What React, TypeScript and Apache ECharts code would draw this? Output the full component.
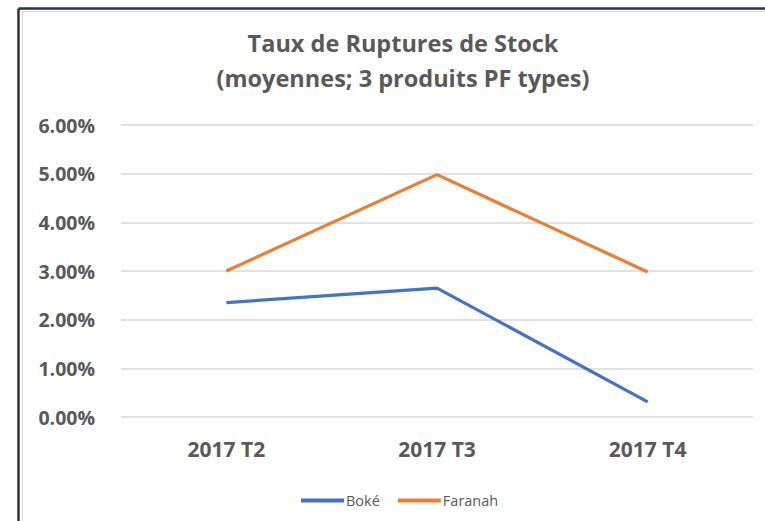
import React, { useEffect, useRef } from "react";
import * as echarts from "echarts";

const categories = ["2017 T2", "2017 T3", "2017 T4"];
const bokeValues = [2.35, 2.65, 0.31];
const faranahValues = [3.0, 4.98, 2.98];
const yTicks = [0, 1, 2, 3, 4, 5, 6];

const FONT = "'Open Sans', sans-serif";
const GRAY = "#595959";

export default function App() {
  const ref = useRef<HTMLDivElement>(null);
  useEffect(() => {
    const chart = echarts.init(ref.current!, null, { renderer: "svg" });
    chart.setOption({
      animation: false,
      backgroundColor: "#ffffff",
      title: {
        text: "Taux de Ruptures de Stock\n(moyennes; 3 produits PF types)",
        left: 398,
        textAlign: "center",
        top: 20,
        textStyle: {
          fontFamily: FONT,
          fontWeight: "bold",
          fontSize: 23.5,
          color: GRAY,
          lineHeight: 35,
        },
      },
      legend: {
        left: 296,
        top: 488,
        itemWidth: 43,
        itemHeight: 4,
        itemGap: 18,
        icon: "rect",
        textStyle: { fontFamily: FONT, fontSize: 14.5, color: GRAY, padding: [0, 0, 0, -3] },
        data: ["Boké", "Faranah"],
      },
      grid: { left: 121, right: 12, top: 125, bottom: 104 },
      xAxis: {
        type: "category",
        data: categories,
        boundaryGap: true,
        axisLine: { show: false },
        axisTick: { show: false },
        axisLabel: {
          fontFamily: FONT,
          fontWeight: "bold",
          fontSize: 21,
          color: GRAY,
          margin: 21,
        },
      },
      yAxis: {
        type: "value",
        min: yTicks[0],
        max: yTicks[yTicks.length - 1],
        interval: 1,
        axisLine: { show: false },
        axisTick: { show: false },
        splitLine: { lineStyle: { color: "#d9d9d9", width: 1.5 } },
        axisLabel: {
          fontFamily: FONT,
          fontWeight: "bold",
          fontSize: 19.5,
          color: GRAY,
          margin: 26,
          formatter: (v: number) => v.toFixed(2) + "%",
        },
      },
      series: [
        {
          name: "Boké",
          type: "line",
          data: bokeValues,
          showSymbol: false,
          symbol: "none",
          lineStyle: { color: "#4472C4", width: 3.2 },
          itemStyle: { color: "#4472C4" },
        },
        {
          name: "Faranah",
          type: "line",
          data: faranahValues,
          showSymbol: false,
          symbol: "none",
          lineStyle: { color: "#ED7D31", width: 3.2 },
          itemStyle: { color: "#ED7D31" },
        },
      ],
      graphic: [
        {
          type: "line",
          shape: { x1: 18.5, y1: 8.5, x2: 765, y2: 8.5 },
          style: { stroke: "#2b3442", lineWidth: 2.5 },
        },
        {
          type: "line",
          shape: { x1: 18.5, y1: 8.5, x2: 18.5, y2: 521 },
          style: { stroke: "#2b3442", lineWidth: 2.5 },
        },
        {
          type: "line",
          shape: { x1: 22.5, y1: 11.5, x2: 765, y2: 11.5 },
          style: { stroke: "#d8d8d8", lineWidth: 1 },
        },
        {
          type: "line",
          shape: { x1: 22.5, y1: 11.5, x2: 22.5, y2: 521 },
          style: { stroke: "#d8d8d8", lineWidth: 1 },
        },
      ],
    });
    return () => chart.dispose();
  }, []);
  return (
    <div
      ref={ref}
      style={{ position: "absolute", left: 0, top: 0, width: 765, height: 521 }}
    />
  );
}
